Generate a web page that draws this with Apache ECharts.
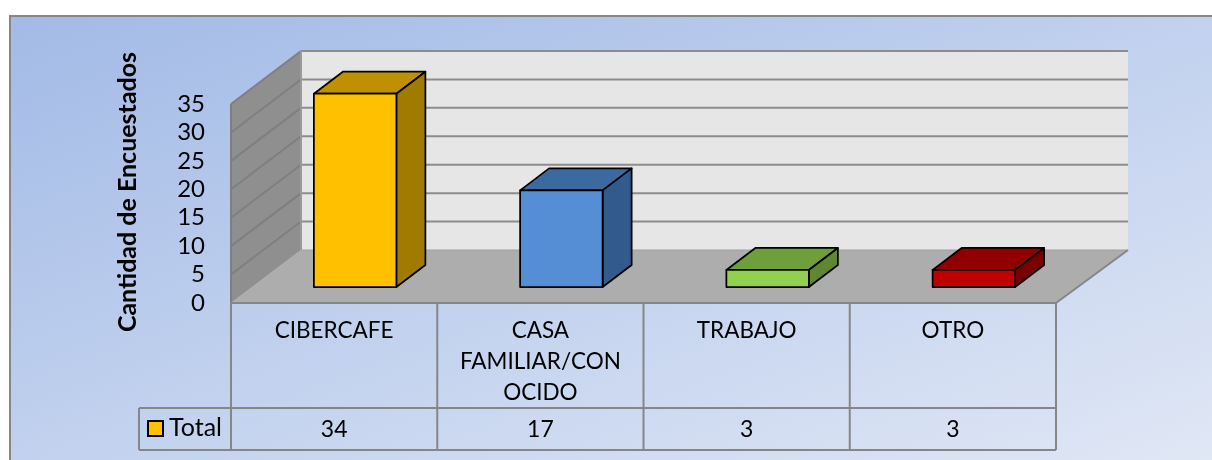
<!DOCTYPE html>
<html>
<head>
<meta charset="utf-8">
<style>
  html, body { margin: 0; padding: 0; background: #fff; }
  #chart { width: 1212px; height: 460px; }
</style>
</head>
<body>
<div id="chart"></div>
<script src="https://cdn.jsdelivr.net/npm/echarts@6/dist/echarts.min.js"></script>
<script>
const categories = ['CIBERCAFE', 'CASA\nFAMILIAR/CON\nOCIDO', 'TRABAJO', 'OTRO']
const totals = [34, 17, 3, 3]
const seriesName = 'Total'
const yTicks = [0, 5, 10, 15, 20, 25, 30, 35]
const axisTitle = 'Cantidad de Encuestados'

// bar faces: front, top, side
const barColors = [
  ['#ffc000', '#bf9000', '#a07b00'],
  ['#558ed5', '#3b6aa0', '#325a8c'],
  ['#92d050', '#6f9f3c', '#5f8731'],
  ['#c00000', '#900000', '#7a0000']
]

const fontName = 'Lato, Carlito, sans-serif'
const lineColor = '#868686'
// floor depth and where the bars stand on it
const depthLeft = 70
const depthRight = 72
const depthY = -53
const barShift = [21, -16]
const barDepth = [29, -22]
const tableBottom = 450
const valueRowTop = 408
const legendLeft = 139

function line (x1, y1, x2, y2, width, color) {
  return {
    type: 'line',
    shape: { x1: x1, y1: y1, x2: x2, y2: y2 },
    style: { stroke: color || lineColor, lineWidth: width || 2 }
  }
}

function poly (points, fill, stroke) {
  return {
    type: 'polygon',
    shape: { points: points },
    style: { fill: fill, stroke: stroke || 'none', lineWidth: stroke ? 1.75 : 0, lineJoin: 'round' }
  }
}

function renderScene (params, api) {
  const rect = params.coordSys
  const left = rect.x
  const right = rect.x + rect.width
  const floor = api.coord([0, 0])[1]
  const top = api.coord([0, yTicks[yTicks.length - 1]])[1]
  const backL = left + depthLeft
  const backR = right + depthRight
  const dy = depthY
  const children = [
    poly([[backL, top + dy], [backR, top + dy], [backR, floor + dy], [backL, floor + dy]], '#e6e6e6'),
    poly([[left, top], [backL, top + dy], [backL, floor + dy], [left, floor]], '#8f8f8f'),
    poly([[left, floor], [backL, floor + dy], [backR, floor + dy], [right, floor]], '#adadad')
  ]
  yTicks.forEach(function (t) {
    const y = api.coord([0, t])[1]
    if (t > 0) {
      children.push(line(left, y, backL, y + dy, 2, '#7f7f7f'))
      children.push(line(backL, y + dy, backR, y + dy, 2, '#8c8c8c'))
    } else {
      children.push(line(backL, y + dy, backR, y + dy, 1, '#a0a0a0'))
    }
  })
  children.push(line(left, top, left, floor, 2, '#7f7f7f'))
  children.push(line(backL, top + dy, backL, floor + dy, 2, '#9a9a9a'))
  children.push(line(right, floor, backR, floor + dy, 2))
  // data table
  children.push(line(left, floor, right, floor, 2))
  children.push(line(legendLeft, valueRowTop, right, valueRowTop, 2))
  children.push(line(legendLeft, tableBottom, right, tableBottom, 2))
  children.push(line(legendLeft, valueRowTop, legendLeft, tableBottom, 2))
  const band = api.size([1, 0])[0]
  for (let i = 0; i <= categories.length; i++) {
    const x = left + band * i
    children.push(line(x, floor, x, tableBottom, 2))
  }
  // legend key inside the table
  children.push({
    type: 'rect',
    shape: { x: 148, y: 421, width: 15, height: 15 },
    style: { fill: barColors[0][0], stroke: '#000', lineWidth: 2 }
  })
  children.push({
    type: 'text',
    style: {
      x: 169, y: 428, text: seriesName, fill: '#000',
      font: '25px ' + fontName, textAlign: 'left', textVerticalAlign: 'middle'
    }
  })
  return { type: 'group', children: children }
}

function renderBar (params, api) {
  const idx = api.value(0)
  const base = api.coord([idx, 0])
  const head = api.coord([idx, api.value(1)])
  const width = api.size([1, 0])[0] * 0.4
  const x1 = base[0] + barShift[0] - width / 2
  const x2 = x1 + width
  const yb = base[1] + barShift[1]
  const yt = head[1] + barShift[1]
  const dx = barDepth[0]
  const dy = barDepth[1]
  const c = barColors[idx]
  return {
    type: 'group',
    children: [
      poly([[x1, yt], [x2, yt], [x2 + dx, yt + dy], [x1 + dx, yt + dy]], c[1], '#000'),
      poly([[x2, yt], [x2 + dx, yt + dy], [x2 + dx, yb + dy], [x2, yb]], c[2], '#000'),
      poly([[x1, yt], [x2, yt], [x2, yb], [x1, yb]], c[0], '#000')
    ]
  }
}

function renderValue (params, api) {
  const idx = api.value(0)
  return {
    type: 'text',
    style: {
      x: api.coord([idx, 0])[0],
      y: (valueRowTop + tableBottom) / 2 + 1,
      text: String(api.value(1)),
      fill: '#000',
      font: '23px ' + fontName,
      textAlign: 'center',
      textVerticalAlign: 'middle'
    }
  }
}

const barData = totals.map(function (v, i) { return [i, v] })
const chart = echarts.init(document.getElementById('chart'))
chart.setOption({
  animation: false,
  backgroundColor: '#fff',
  tooltip: { show: false },
  grid: { left: 231, right: 156, top: 104, bottom: 157 },
  graphic: [
    {
      type: 'rect',
      z: -10,
      silent: true,
      shape: { x: 10, y: 16, width: 1230, height: 470 },
      style: {
        // diagonal sheen, corner to corner of the visible panel
        fill: new echarts.graphic.LinearGradient(467, -152, 755, 628, [
          { offset: 0, color: '#a2bae6' },
          { offset: 0.5, color: '#c1d1ee' },
          { offset: 1, color: '#e0e7f5' }
        ], true),
        stroke: lineColor,
        lineWidth: 2
      }
    },
    {
      type: 'text',
      z: 10,
      silent: true,
      x: 128,
      y: 192,
      rotation: Math.PI / 2,
      style: {
        text: axisTitle,
        fill: '#000',
        font: 'bold 25px ' + fontName,
        textAlign: 'center',
        textVerticalAlign: 'middle'
      }
    }
  ],
  xAxis: {
    type: 'category',
    data: categories,
    axisLine: { show: false },
    axisTick: { show: false },
    axisLabel: {
      interval: 0,
      margin: 12,
      color: '#000',
      fontFamily: fontName,
      fontSize: 22.5,
      lineHeight: 31,
      verticalAlign: 'top',
      align: 'center'
    }
  },
  yAxis: {
    type: 'value',
    min: 0,
    max: 35,
    interval: 5,
    axisLine: { show: false },
    axisTick: { show: false },
    splitLine: { show: false },
    axisLabel: { margin: 26, color: '#000', fontFamily: fontName, fontSize: 24, verticalAlign: 'middle', padding: [4, 0, 0, 0] }
  },
  series: [
    { type: 'custom', silent: true, renderItem: renderScene, data: [[0, 0]], z: 1 },
    { type: 'custom', silent: true, renderItem: renderBar, data: barData, encode: { x: 0, y: 1 }, z: 2 },
    { type: 'custom', silent: true, renderItem: renderValue, data: barData, encode: { x: 0, y: 1 }, z: 3 }
  ]
})
</script>
</body>
</html>
